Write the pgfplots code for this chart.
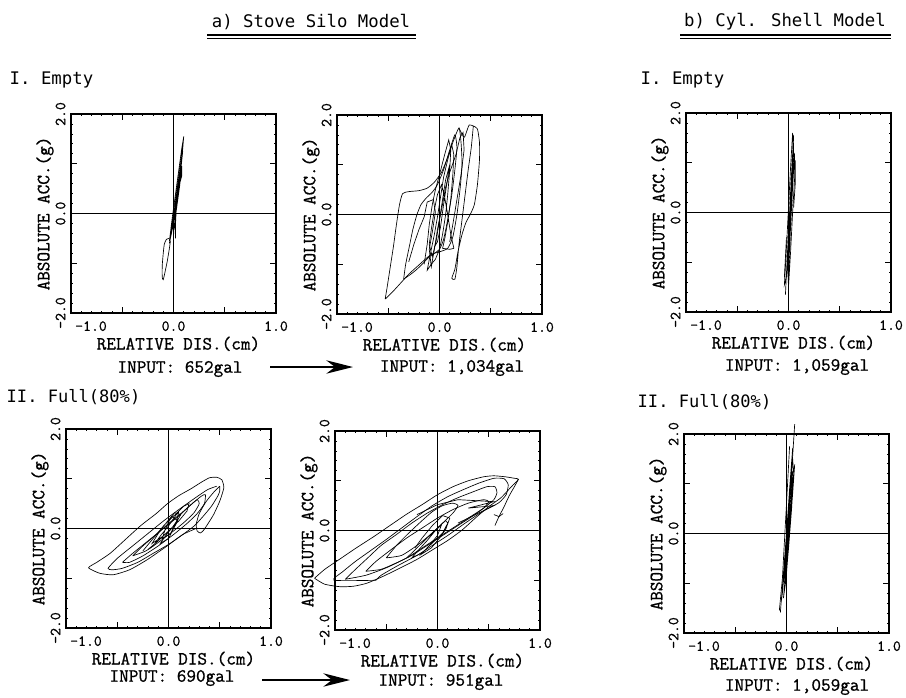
\documentclass[border=0pt]{standalone}
\usepackage{pgfplots}
\pgfplotsset{compat=1.18}
\usepackage{fontspec}
\setmainfont{Latin Modern Mono}[FakeBold=1]
\newfontfamily\plotterfont{DejaVu Sans Mono}
\usetikzlibrary{arrows.meta}

\pgfplotsset{
  silo/.style={
    width=153.75pt, height=149.25pt, scale only axis,
    xmin=-1, xmax=1, ymin=-2, ymax=2,
    clip=false,
    axis line style={line width=1pt},
    tick align=inside,
    xtick={-1,-0.5,0,0.5,1},
    xticklabels={,,0.0,,1.0},
    ytick={-2,-1,0,1,2},
    yticklabels={-2.0,,0.0,,2.0},
    minor x tick num=4,
    minor y tick num=4,
    major tick length=4.5pt,
    minor tick length=1.6pt,
    tick style={black, line width=0.6pt},
    xticklabel style={font=\fontsize{11.5}{13}\selectfont, anchor=north, inner sep=0pt},
    xticklabel shift=6pt,
    yticklabel style={font=\fontsize{11.5}{13}\selectfont, rotate=90, anchor=south, inner sep=0pt},
    yticklabel shift=4pt,
    extra x ticks={-1},
    extra x tick labels={-1.0},
    extra x tick style={major tick length=0pt, xticklabel style={xshift=15pt}},
    xlabel={RELATIVE DIS.(cm)},
    ylabel={ABSOLUTE ACC.(g)},
    xlabel style={at={(axis description cs:0.524,-0.155)}, anchor=center, font=\fontsize{14}{16}\selectfont},
    ylabel style={at={(axis description cs:-0.127,0.5)}, anchor=center, rotate=0, font=\fontsize{14}{16}\selectfont},
  },
  zl/.style={black, line width=0.7pt},
  cv/.style={black, line width=0.5pt},
  cs/.style={black, line width=0.5pt, smooth, tension=0.35},
}

\begin{document}
\begin{tikzpicture}
\begin{scope}[x=0.75pt, y=-0.75pt]
\useasboundingbox (0,0) rectangle (906,697);
% titles
\node[font=\plotterfont\fontsize{13}{15}\selectfont] at (311,22) {a) Stove Silo Model};
\draw[line width=1.1pt] (207,35) -- (416,35);
\draw[line width=0.7pt] (207,38.5) -- (416,38.5);
\node[font=\plotterfont\fontsize{13}{15}\selectfont] at (785,22) {b) Cyl. Shell Model};
\draw[line width=1.1pt] (680,35) -- (891,35);
\draw[line width=0.7pt] (680,38.5) -- (891,38.5);
\node[anchor=west, font=\plotterfont\fontsize{13}{15}\selectfont] at (5,80) {I. Empty};
\node[anchor=west, font=\plotterfont\fontsize{13}{15}\selectfont] at (636,80) {I. Empty};
\node[anchor=west, font=\plotterfont\fontsize{12.8}{15}\selectfont] at (2,397) {II. Full(80\%)};
\node[anchor=west, font=\plotterfont\fontsize{12.8}{15}\selectfont] at (633,402) {II. Full(80\%)};
% inputs
\node[font=\fontsize{14}{16}\selectfont] at (180,369) {INPUT: 652gal};
\node[font=\fontsize{14}{16}\selectfont] at (452,368) {INPUT: 1,034gal};
\node[font=\fontsize{14}{16}\selectfont] at (797,367) {INPUT: 1,059gal};
\node[font=\fontsize{14}{16}\selectfont] at (172,678) {INPUT: 690gal};
\node[font=\fontsize{14}{16}\selectfont] at (441,682) {INPUT: 951gal};
\node[font=\fontsize{14}{16}\selectfont] at (797,687) {INPUT: 1,059gal};
\draw[line width=1.6pt, -{Stealth[length=20pt, width=10pt]}] (270,367) -- (353,367);
\draw[line width=1.6pt, -{Stealth[length=20pt, width=10pt]}] (262,680) -- (350,680);
\end{scope}

% ---------- P1 ----------
\begin{axis}[silo, at={(53.25pt,-234.75pt)}, anchor=south west]
\addplot[zl] coordinates {(-1,0) (1,0)};
\addplot[zl] coordinates {(0,-2) (0,2)};
\addplot[cv] coordinates {(-0.04,-0.55) (-0.01,-0.05) (0.02,0.4) (0.05,0.85) (0.08,1.3) (0.10,1.55) (0.09,1.3) (0.07,0.95) (0.04,0.45) (0.01,0.0) (-0.02,-0.4) (-0.03,-0.5) (-0.01,-0.2) (0.02,0.25) (0.05,0.7) (0.08,1.15) (0.09,1.4) (0.08,1.1) (0.05,0.6) (0.02,0.15) (-0.01,-0.3) (-0.04,-0.6) (-0.02,-0.35) (0.01,0.1) (0.04,0.55) (0.07,1.0) (0.09,1.25) (0.07,0.85) (0.04,0.35) (0.01,-0.1) (0.02,-0.5) (0.02,-0.2) (0.03,0.2) (0.06,0.6) (0.08,0.75) (0.08,0.95) (0.06,0.55) (0.03,0.1) (0.0,-0.35)};
\addplot[cs] coordinates {(-0.04,-0.5) (-0.07,-0.52) (-0.09,-0.62) (-0.1,-0.8) (-0.11,-1.05) (-0.11,-1.28) (-0.1,-1.33) (-0.08,-1.15) (-0.06,-0.95) (-0.04,-0.7) (-0.03,-0.55)};
\end{axis}

% ---------- P2 ----------
\begin{axis}[silo, at={(252.75pt,-235.5pt)}, anchor=south west]
\addplot[zl] coordinates {(-1,0) (1,0)};
\addplot[zl] coordinates {(0,-2) (0,2)};
\addplot[cs] coordinates {(-0.53,-1.70) (-0.51,-1.45) (-0.48,-1.05) (-0.45,-0.65) (-0.42,-0.2) (-0.39,0.2) (-0.36,0.42) (-0.3,0.46) (-0.2,0.48) (-0.12,0.53) (-0.05,0.65) (0.02,0.85) (0.08,1.15) (0.13,1.45) (0.19,1.74) (0.21,1.45) (0.22,1.0) (0.2,0.5) (0.17,0.0) (0.13,-0.45) (0.08,-0.68) (0.0,-0.75) (-0.08,-0.8) (-0.15,-0.92) (-0.22,-1.05) (-0.3,-1.2) (-0.38,-1.38) (-0.46,-1.56) (-0.53,-1.70)};
\addplot[cs] coordinates {(0.19,1.74) (0.24,1.55) (0.27,1.7) (0.29,1.8) (0.33,1.78) (0.37,1.72) (0.39,1.45) (0.39,1.1) (0.37,0.6) (0.34,0.2) (0.3,0.0) (0.26,-0.15) (0.22,-0.4) (0.18,-0.75) (0.15,-1.1) (0.12,-1.28) (0.15,-1.3) (0.17,-1.05) (0.19,-0.6) (0.22,-0.1) (0.25,0.4) (0.28,0.9) (0.31,1.35) (0.33,1.78)};
\addplot[cs] coordinates {(-0.35,-1.3) (-0.33,-1.0) (-0.29,-0.6) (-0.26,-0.3) (-0.22,0.0) (-0.18,0.2) (-0.13,0.33) (-0.07,0.45) (-0.02,0.6) (0.04,0.9) (0.1,1.3) (0.15,1.6) (0.17,1.35) (0.15,0.9) (0.12,0.4) (0.08,-0.1) (0.04,-0.5) (0.0,-0.7) (-0.05,-0.78) (-0.1,-0.85) (-0.16,-0.98) (-0.22,-1.1) (-0.28,-1.2) (-0.35,-1.3)};
\addplot[cv] coordinates {(-0.15,-1.0) (-0.12,-0.6) (-0.1,-0.2) (-0.07,0.2) (-0.04,0.5) (0.0,0.8) (0.05,1.2) (0.09,1.5) (0.11,1.3) (0.1,0.9) (0.08,0.4) (0.06,0.0) (0.03,-0.4) (0.0,-0.7) (-0.04,-0.9) (-0.08,-1.0) (-0.12,-1.12) (-0.09,-0.8) (-0.05,-0.4) (-0.02,-0.05) (0.01,0.35) (0.04,0.75) (0.08,1.1) (0.12,1.4) (0.14,1.2) (0.13,0.8) (0.11,0.3) (0.08,-0.15) (0.05,-0.5) (0.03,-0.68) (0.1,-0.7) (0.14,-0.68) (0.11,-0.4) (0.08,0.0) (0.05,0.35) (0.02,0.6) (-0.02,0.4) (-0.05,0.1) (-0.08,-0.3) (-0.1,-0.6) (-0.07,-0.85) (-0.03,-0.5) (0.0,-0.1) (0.03,0.3) (0.06,0.7) (0.1,1.0) (0.07,0.6) (0.04,0.2) (0.01,-0.25) (-0.02,-0.55) (-0.05,-0.65)};
\addplot[cv] coordinates {(-0.3,-0.95) (-0.25,-0.6) (-0.2,-0.3) (-0.15,-0.05) (-0.12,0.25) (-0.06,0.3) (-0.04,0.05) (-0.07,-0.35) (-0.1,-0.7) (-0.08,-1.05) (-0.05,-0.7) (-0.02,-0.3) (0.02,0.1) (0.06,0.55) (0.1,0.85) (0.16,1.2) (0.2,1.55) (0.23,1.65) (0.24,1.3) (0.21,0.8) (0.17,0.3) (0.13,-0.2) (0.1,-0.55)};
\end{axis}

% ---------- P3 ----------
\begin{axis}[silo, at={(514.5pt,-234pt)}, anchor=south west]
\addplot[zl] coordinates {(-1,0) (1,0)};
\addplot[zl] coordinates {(0,-2) (0,2)};
\addplot[cv] coordinates {(-0.03,-1.65) (-0.01,-0.8) (0.01,0.0) (0.03,0.8) (0.05,1.55) (0.04,1.0) (0.02,0.2) (0.0,-0.6) (-0.02,-1.3) (-0.04,-1.45) (-0.02,-0.7) (0.0,0.1) (0.02,0.9) (0.04,1.6) (0.05,1.2) (0.03,0.4) (0.01,-0.4) (-0.01,-1.1) (0.0,-1.2) (0.02,-0.3) (0.04,0.5) (0.06,1.2) (0.06,0.7) (0.04,0.0) (0.02,-0.8) (0.0,-1.5) (-0.01,-1.0) (0.01,-0.2) (0.03,0.6) (0.05,1.4) (0.04,0.8) (0.02,0.0) (0.0,-0.9)};
\addplot[cv] coordinates {(0.065,1.05) (0.065,0.55) (0.05,0.1)};
\addplot[cv] coordinates {(-0.04,-1.3) (-0.03,-0.9) (-0.02,-0.5)};
\end{axis}

% ---------- P4 ----------
\begin{axis}[silo, at={(49.5pt,-471pt)}, anchor=south west]
\addplot[zl] coordinates {(-1,0) (1,0)};
\addplot[zl] coordinates {(0,-2) (0,2)};
\addplot[cs] coordinates {(0.28,0.01) (0.14,-0.12) (-0.02,-0.36) (-0.21,-0.63) (-0.38,-0.83) (-0.54,-0.93) (-0.67,-0.90) (-0.78,-0.79) (-0.7,-0.68) (-0.57,-0.5) (-0.42,-0.22) (-0.27,0.06) (-0.12,0.3) (-0.01,0.5) (0.1,0.66) (0.22,0.8) (0.32,0.93) (0.40,1.02) (0.47,1.03) (0.52,0.98) (0.54,0.82) (0.5,0.55) (0.44,0.28) (0.38,0.08) (0.34,-0.04) (0.31,-0.09) (0.28,-0.05) (0.27,0.08) (0.3,0.3) (0.37,0.55) (0.45,0.75) (0.5,0.85)};
\addplot[cs] coordinates {(0.5,0.85) (0.5,0.75) (0.48,0.65) (0.42,0.45) (0.34,0.25) (0.25,0.05) (0.12,-0.15) (0.0,-0.32) (-0.15,-0.5) (-0.3,-0.68) (-0.45,-0.8) (-0.55,-0.83) (-0.59,-0.8) (-0.5,-0.6) (-0.35,-0.35) (-0.2,-0.1) (-0.05,0.15) (0.1,0.38) (0.25,0.6) (0.38,0.78) (0.47,0.85)};
\addplot[cs] coordinates {(-0.45,-0.68) (-0.35,-0.5) (-0.2,-0.25) (-0.05,0.0) (0.1,0.25) (0.22,0.48) (0.32,0.65) (0.36,0.68) (0.35,0.5) (0.28,0.3) (0.18,0.1) (0.05,-0.12) (-0.1,-0.35) (-0.25,-0.55) (-0.38,-0.68) (-0.45,-0.68)};
\addplot[cs] coordinates {(-0.35,-0.55) (-0.25,-0.35) (-0.12,-0.12) (0.0,0.1) (0.12,0.3) (0.22,0.48) (0.28,0.58) (0.3,0.5) (0.25,0.32) (0.15,0.12) (0.03,-0.08) (-0.1,-0.28) (-0.22,-0.45) (-0.35,-0.55)};
\addplot[cv] coordinates {(-0.25,-0.45) (-0.15,-0.2) (-0.05,0.05) (0.05,0.25) (0.15,0.45) (0.2,0.5) (0.18,0.35) (0.1,0.15) (0.0,-0.05) (-0.1,-0.25) (-0.2,-0.42) (-0.15,-0.35) (-0.08,-0.15) (0.0,0.05) (0.05,0.2) (0.1,0.35) (0.08,0.15) (0.03,0.0) (-0.02,-0.12) (-0.08,-0.3) (0.0,-0.2) (0.05,0.0) (0.09,0.15) (0.03,0.25) (-0.03,0.0) (-0.06,-0.2) (0.02,-0.1) (0.07,0.1) (0.12,0.28) (0.06,0.32) (-0.02,0.12) (-0.1,-0.1) (-0.16,-0.3) (-0.05,-0.15)};
\end{axis}

% ---------- P5 ----------
\begin{axis}[silo, at={(251.25pt,-472.5pt)}, anchor=south west]
\addplot[zl] coordinates {(-1,0) (1,0)};
\addplot[zl] coordinates {(0,-2) (0,2)};
\addplot[cs] coordinates {(-1.2,-0.96) (-1.1,-0.78) (-0.95,-0.57) (-0.8,-0.36) (-0.62,-0.12) (-0.45,0.12) (-0.3,0.33) (-0.15,0.52) (0.0,0.72) (0.15,0.88) (0.3,1.0) (0.45,1.08) (0.55,1.1) (0.66,1.08) (0.75,1.05) (0.79,1.03) (0.72,0.88) (0.62,0.66) (0.5,0.48) (0.38,0.27) (0.24,0.01) (0.1,-0.2) (-0.05,-0.39) (-0.2,-0.58) (-0.37,-0.76) (-0.53,-0.92) (-0.69,-1.06) (-0.82,-1.12) (-0.95,-1.13) (-1.1,-1.08) (-1.2,-0.96)};
\addplot[cs] coordinates {(-0.6,-1.0) (-1.01,-1.0) (-0.92,-0.82) (-0.8,-0.62) (-0.65,-0.4) (-0.5,-0.18) (-0.35,0.05) (-0.2,0.28) (-0.05,0.5) (0.1,0.68) (0.25,0.82) (0.4,0.95) (0.55,1.05) (0.65,1.04) (0.69,0.92) (0.67,0.72) (0.6,0.56) (0.5,0.45) (0.4,0.33) (0.25,0.12) (0.1,-0.1) (-0.05,-0.3) (-0.2,-0.5) (-0.4,-0.72) (-0.55,-0.9) (-0.6,-1.0)};
\addplot[cs] coordinates {(-0.9,-0.98) (-0.8,-0.78) (-0.68,-0.55) (-0.55,-0.3) (-0.4,-0.08) (-0.25,0.15) (-0.1,0.35) (0.05,0.52) (0.2,0.66) (0.35,0.78) (0.48,0.88) (0.56,0.88) (0.58,0.76) (0.55,0.62) (0.45,0.45) (0.3,0.25) (0.15,0.05) (0.0,-0.15) (-0.15,-0.35) (-0.3,-0.55) (-0.5,-0.75) (-0.7,-0.9) (-0.9,-0.98)};
\addplot[cs] coordinates {(-0.7,-0.82) (-0.6,-0.62) (-0.45,-0.38) (-0.3,-0.15) (-0.15,0.05) (0.0,0.25) (0.15,0.42) (0.3,0.55) (0.45,0.62) (0.5,0.58) (0.45,0.45) (0.35,0.3) (0.2,0.1) (0.05,-0.1) (-0.1,-0.3) (-0.25,-0.5) (-0.4,-0.65) (-0.55,-0.78) (-0.7,-0.82)};
\addplot[cs] coordinates {(-0.5,-0.55) (-0.4,-0.3) (-0.28,-0.05) (-0.15,0.2) (-0.05,0.38) (0.05,0.5) (0.15,0.55) (0.2,0.5) (0.15,0.35) (0.05,0.15) (-0.08,-0.1) (-0.2,-0.3) (-0.35,-0.5) (-0.5,-0.55)};
\addplot[cv] coordinates {(-0.2,0.32) (0.0,0.52) (0.2,0.62) (0.55,0.58) (0.3,0.45) (0.55,0.5) (0.35,0.3) (0.2,0.15)};
\addplot[cv] coordinates {(-0.3,-0.55) (-0.2,-0.35) (-0.1,-0.15) (0.0,0.05) (0.08,0.2) (0.1,0.15) (0.05,-0.05) (-0.05,-0.25) (-0.15,-0.45) (-0.25,-0.55) (-0.18,-0.38) (-0.1,-0.2) (-0.02,0.0) (0.04,0.12) (0.0,-0.1) (-0.08,-0.3) (-0.16,-0.48) (-0.06,-0.35) (0.02,-0.15) (0.08,0.02) (0.12,0.25) (0.05,0.3) (-0.05,0.1) (-0.15,-0.15) (-0.22,-0.35)};
\addplot[cs] coordinates {(0.56,0.1) (0.6,0.28) (0.65,0.48) (0.7,0.7) (0.75,0.88) (0.79,1.03)};
\addplot[cv] coordinates {(0.55,0.32) (0.6,0.28) (0.64,0.34)};
\end{axis}

% ---------- P6 ----------
\begin{axis}[silo, at={(513pt,-474.75pt)}, anchor=south west]
\addplot[zl] coordinates {(-1,0) (1,0)};
\addplot[zl] coordinates {(0,-2) (0,2)};
\addplot[cv] coordinates {(-0.06,-1.59) (-0.03,-0.8) (0.0,0.0) (0.03,0.9) (0.06,1.72) (0.05,1.2) (0.02,0.3) (-0.01,-0.5) (-0.04,-1.2) (-0.05,-1.35) (-0.02,-0.6) (0.01,0.2) (0.04,1.0) (0.06,1.5) (0.07,1.2) (0.05,0.5) (0.02,-0.3) (-0.01,-1.0) (-0.03,-1.3) (0.0,-0.6) (0.03,0.2) (0.06,1.0) (0.08,1.39) (0.06,0.8) (0.03,0.0) (0.0,-0.8) (-0.02,-1.1) (0.01,-0.4) (0.04,0.5) (0.06,1.25) (0.04,0.6) (0.01,-0.2) (-0.02,-0.9)};
\addplot[cv] coordinates {(-0.02,-1.0) (0.03,0.6) (0.08,2.2)};
\addplot[cv] coordinates {(0.03,1.75) (0.0,0.6) (-0.04,-0.9) (-0.07,-1.55)};
\end{axis}
\end{tikzpicture}
\end{document}
